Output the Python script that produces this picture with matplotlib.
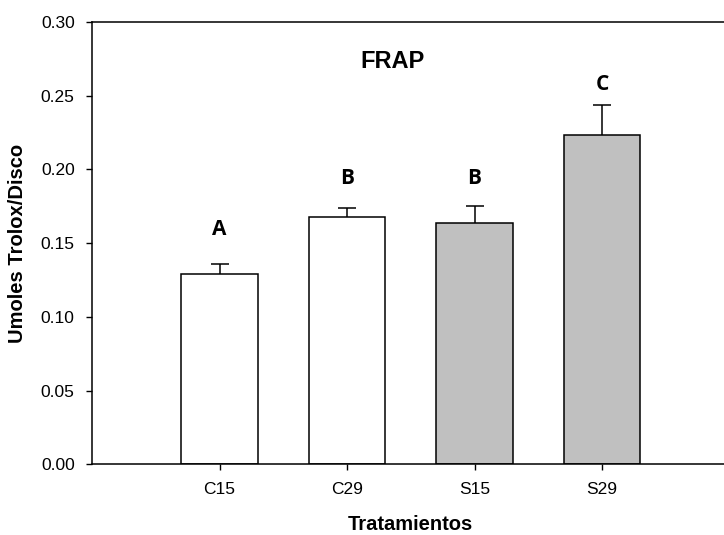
import matplotlib
matplotlib.use("Agg")
import matplotlib.pyplot as plt

# Data
treatments = ["C15", "C29", "S15", "S29"]
means = [0.1289, 0.1677, 0.1639, 0.2236]
errors = [0.0072, 0.0064, 0.0115, 0.0201]
groups = ["A", "B", "B", "C"]
group_label_y = [0.1596, 0.1937, 0.1937, 0.2579]
fill_colors = ["white", "white", "#c0c0c0", "#c0c0c0"]
yticks = [0.00, 0.05, 0.10, 0.15, 0.20, 0.25, 0.30]

plt.rcParams["font.family"] = ["Liberation Sans", "DejaVu Sans"]

fig = plt.figure(figsize=(7.24, 5.35), dpi=100)
ax = fig.add_axes([0.1271, 0.1321, 0.8805, 0.8268])

x = list(range(1, len(treatments) + 1))
ax.bar(x, means, width=0.6, color=fill_colors, edgecolor="black",
       linewidth=1.1, zorder=2)

# upper error bars only: stem from bar top plus a cap
tops = [m + e for m, e in zip(means, errors)]
ax.vlines(x, means, tops, colors="black", linewidth=1.1, zorder=3)
ax.scatter(x, tops, marker="_", s=170, color="black", linewidths=1.1,
           zorder=3)

for xi, g, gy in zip(x, groups, group_label_y):
    ax.text(xi, gy, g, ha="center", va="center", fontsize=15,
            fontweight="bold", family=["Open Sans", "DejaVu Sans"])

ax.text(0.472, 0.9096, "FRAP", transform=ax.transAxes, ha="center",
        va="center", fontsize=17, fontweight="bold")

ax.set_xlim(0, 5)
ax.set_ylim(0, 0.30)
ax.set_xticks(x)
ax.set_xticklabels(treatments)
ax.set_yticks(yticks)
ax.set_yticklabels([f"{v:.2f}" for v in yticks])
ax.tick_params(axis="both", direction="out", length=4.5, width=1.0,
               labelsize=12.5, pad=8)

ax.spines["right"].set_visible(False)
for side in ("left", "top", "bottom"):
    ax.spines[side].set_linewidth(1.1)

ax.set_xlabel("Tratamientos", fontsize=14.5, fontweight="bold", labelpad=13)
ax.set_ylabel("Umoles Trolox/Disco", fontsize=14.5, fontweight="bold",
              labelpad=10)

fig.savefig("out.png", dpi=100, facecolor="white")
